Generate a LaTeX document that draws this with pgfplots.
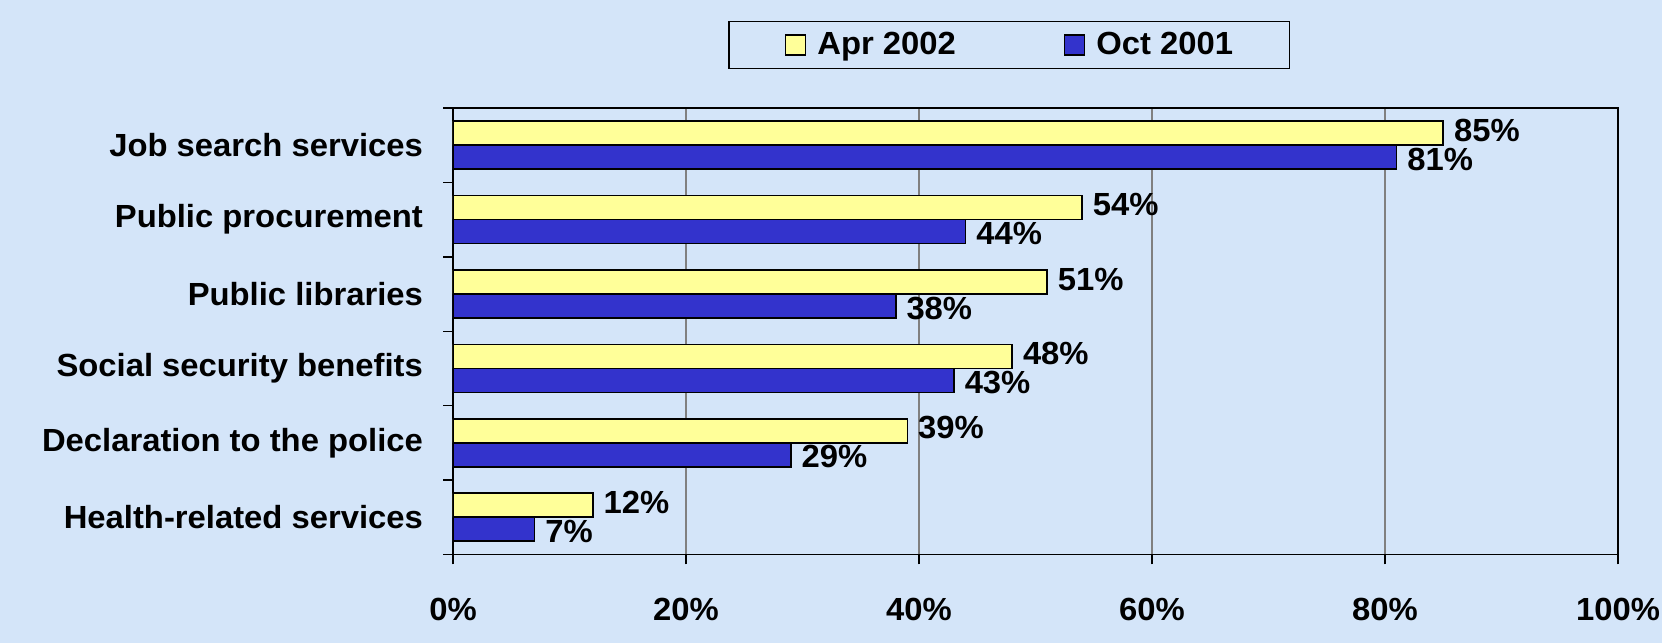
\documentclass[border=0pt]{standalone}
\usepackage{fontspec}
\setmainfont{Liberation Sans}[FakeStretch=1.025]
\usepackage{pgfplots}
\pgfplotsset{compat=1.18}

\definecolor{bgblue}{RGB}{212,229,249}
\definecolor{baryellow}{RGB}{255,255,153}
\definecolor{barblue}{RGB}{51,51,204}
\definecolor{gridgray}{RGB}{128,128,128}

\begin{document}
\begin{tikzpicture}
\useasboundingbox (0,0) rectangle (831pt,321.5pt);
\fill[bgblue] (0,0) rectangle (831pt,321.5pt);
\begin{axis}[
    at={(226.5pt,44.25pt)},
    anchor=south west,
    scale only axis,
    width=582.5pt,
    height=223.25pt,
    xbar,
    bar width=12pt,
    xmin=0, xmax=100,
    ymin=-0.5, ymax=5.5,
    xtick={0,20,40,60,80,100},
    xticklabels={0\%,20\%,40\%,60\%,80\%,100\%},
    ytick={0,1,2,3,4,5},
    yticklabels={Health-related services,Declaration to the police,Social security benefits,Public libraries,Public procurement,Job search services},
    minor ytick={-0.5,0.5,1.5,2.5,3.5,4.5,5.5},
    major y tick style={draw=none},
    tick align=outside,
    major tick length=5pt,
    minor tick length=5pt,
    xtick pos=bottom,
    ytick pos=left,
    xmajorgrids,
    grid style={draw=gridgray, line width=0.6pt},
    axis line style={line width=0.7pt},
    tick style={black, line width=0.7pt},
    xticklabel style={font=\fontsize{16}{19}\selectfont\bfseries, yshift=-13.5pt},
    yticklabel style={font=\fontsize{16}{19}\selectfont\bfseries, xshift=-6.5pt},
    nodes near coords={\pgfmathprintnumber[assume math mode=true]{\pgfplotspointmeta}\%},
    nodes near coords style={font=\fontsize{16}{19}\selectfont\bfseries, anchor=west, xshift=5pt, inner sep=0pt},
    legend columns=2,
    legend style={
        at={(0.4773,1.141)}, anchor=center,
        draw=black, line width=0.6pt, fill=none,
        font=\fontsize{16}{19}\selectfont\bfseries,
        nodes={inner sep=0pt},
        inner xsep=28pt, inner ysep=5.5pt,
        /tikz/every even column/.append style={column sep=54pt}
    },
    legend cell align=left,
    legend image code/.code={\draw[#1, line width=0.6pt] (0pt,-5pt) rectangle (10pt,5pt); \path (15.5pt,0pt);},
]
\addplot[fill=baryellow, draw=black, line width=0.8pt, bar shift=6pt,
    nodes near coords style={yshift=1.5pt}] coordinates {
    (12,0) (39,1) (48,2) (51,3) (54,4) (85,5)
};
\addlegendentry{Apr 2002}
\addplot[fill=barblue, draw=black, line width=0.8pt, bar shift=-6pt,
    nodes near coords style={yshift=-1pt}] coordinates {
    (7,0) (29,1) (43,2) (38,3) (44,4) (81,5)
};
\addlegendentry{Oct 2001}
\end{axis}
\end{tikzpicture}
\end{document}
